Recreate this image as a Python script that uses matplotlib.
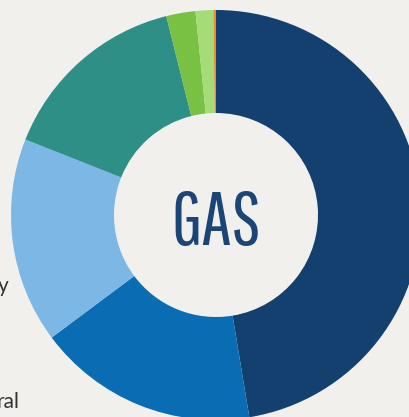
import matplotlib
matplotlib.use("Agg")
import matplotlib.pyplot as plt

# share of each slice, clockwise from 12 o'clock
shares = [47.4, 17.4, 16.2, 15.1, 2.3, 1.4, 0.2]
colors = ["#13406f", "#0a6db3", "#7cb7e5", "#2e8f86", "#78c142", "#a6dc78", "#f08a24"]
center_label = "GAS"
side_labels = ["y", "ral"]

bg = "#f2f0ed"
fig = plt.figure(figsize=(4.1, 4.17), dpi=100, facecolor=bg)
ax = fig.add_axes([0, 0, 1, 1])
ax.set_facecolor(bg)

# axes in pixel units (y up)
ax.pie(shares, colors=colors, startangle=90, counterclock=False,
       center=(216, 202), radius=205,
       wedgeprops=dict(width=103, linewidth=0))
ax.set_xlim(0, 410)
ax.set_ylim(0, 417)
ax.set_aspect("equal")
ax.axis("off")

ax.text(216, 193, center_label, ha="center", va="center",
        family=["Pathway Gothic One", "League Gothic", "DejaVu Sans"],
        fontsize=54, color="#1a4576")

ax.text(9, 125, side_labels[0], ha="right", va="baseline",
        family=["Lato", "DejaVu Sans"], fontsize=15, color="#333333")
ax.text(20, 9, side_labels[1], ha="right", va="baseline",
        family=["Lato", "DejaVu Sans"], fontsize=15, color="#333333")

fig.savefig("out.png", dpi=100, facecolor=bg)
